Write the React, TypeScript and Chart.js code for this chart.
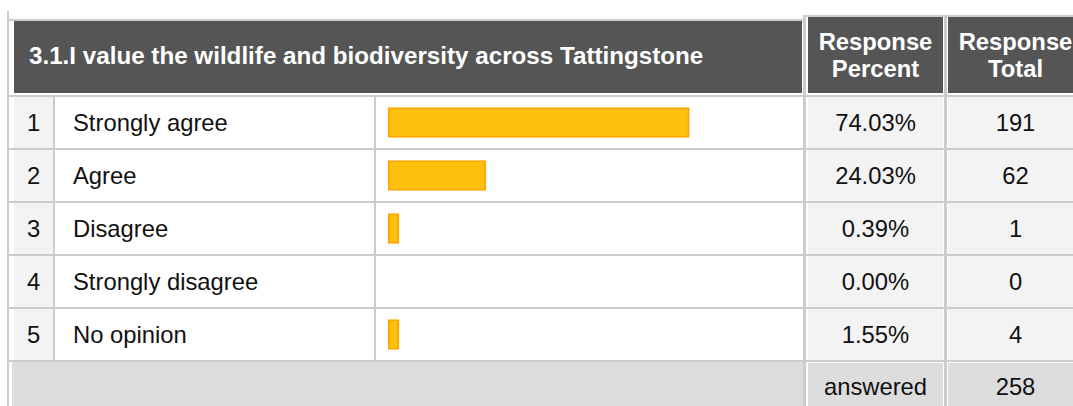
import React, { useEffect, useRef } from "react";
import { Chart, registerables } from "chart.js";

Chart.register(...registerables);

const title = "3.1.I value the wildlife and biodiversity across Tattingstone";
const headerPercent = ["Response", "Percent"];
const headerTotal = ["Response", "Total"];
const rowNumbers = ["1", "2", "3", "4", "5"];
const categories = ["Strongly agree", "Agree", "Disagree", "Strongly disagree", "No opinion"];
const percents = [74.03, 24.03, 0.39, 0.0, 1.55];
const totals = [191, 62, 1, 0, 4];
const answeredLabel = "answered";
const answered = 258;

const FONT = '"Liberation Sans", Arial, sans-serif';
const LINE = "#cccccc";
const ROW0 = 97;
const PITCH = 53;

const box = (x: number, y: number, w: number, h: number, bg: string, extra: React.CSSProperties = {}): React.CSSProperties => ({
  position: "absolute",
  left: x,
  top: y,
  width: w,
  height: h,
  background: bg,
  ...extra,
});

const centerText: React.CSSProperties = {
  display: "flex",
  alignItems: "center",
  justifyContent: "center",
  textAlign: "center",
};

function Bars() {
  const ref = useRef<HTMLCanvasElement | null>(null);
  useEffect(() => {
    if (!ref.current) return;
    const chart = new Chart(ref.current, {
      type: "bar",
      data: {
        labels: categories,
        datasets: [
          {
            data: percents.map((v) => (v > 0 ? v : null)),
            backgroundColor: "#FEC10B",
            borderColor: "#FFA500",
            borderWidth: 2,
            borderSkipped: false,
            barThickness: 30,
            minBarLength: 11,
          } as any,
        ],
      },
      options: {
        indexAxis: "y",
        animation: false,
        responsive: false,
        maintainAspectRatio: false,
        layout: { padding: { left: 11, right: 8, top: 0, bottom: 0 } },
        scales: {
          x: { display: false, min: 0, max: 100 },
          y: { display: false },
        },
        plugins: { legend: { display: false }, tooltip: { enabled: false } },
      },
    });
    return () => chart.destroy();
  }, []);
  return (
    <canvas
      ref={ref}
      width={426}
      height={265}
      style={{ position: "absolute", left: 377, top: 96, width: 426, height: 265 }}
    />
  );
}

export default function App() {
  const cells: React.ReactNode[] = [];
  for (let i = 0; i <= 5; i++) {
    const y = ROW0 - 2 + PITCH * i;
    cells.push(<div key={"h" + i} style={box(9, y, 1064, 2, LINE)} />);
  }
  categories.forEach((c, i) => {
    const y = ROW0 + PITCH * i;
    const h = PITCH - 2;
    cells.push(
      <div key={"n" + i} style={{ ...box(14, y, 39, h, "#f3f3f3"), ...centerText }}>
        {rowNumbers[i]}
      </div>
    );
    cells.push(
      <div key={"l" + i} style={{ ...box(73, y, 300, h, "transparent"), display: "flex", alignItems: "center" }}>
        {c}
      </div>
    );
    cells.push(
      <div key={"p" + i} style={{ ...box(808, y, 135, h, "#f3f3f3"), ...centerText }}>
        {percents[i].toFixed(2) + "%"}
      </div>
    );
    cells.push(
      <div key={"t" + i} style={{ ...box(948, y, 135, h, "#f3f3f3"), ...centerText }}>
        {String(totals[i])}
      </div>
    );
  });

  return (
    <div
      style={{
        position: "fixed",
        left: 0,
        top: 0,
        width: 1073,
        height: 406,
        overflow: "hidden",
        background: "#ffffff",
        fontFamily: FONT,
        fontSize: 23.8,
        color: "#111111",
      }}
    >
      <div style={box(7, 11, 2, 395, LINE)} />
      <div style={box(9, 19, 794, 2, LINE)} />
      <div
        style={{
          ...box(14, 21, 788, 72, "#555555"),
          display: "flex",
          alignItems: "center",
          paddingLeft: 15,
          paddingBottom: 3,
          boxSizing: "border-box",
          color: "#ffffff",
          fontWeight: "bold",
          fontSize: 24.2,
        }}
      >
        {title}
      </div>
      <div style={box(806, 15, 277, 2, LINE)} />
      <div style={{ ...box(808, 17, 135, 76, "#555555"), ...centerText, color: "#ffffff", fontWeight: "bold", flexDirection: "column", lineHeight: "27px" }}>
        <div>{headerPercent[0]}</div>
        <div>{headerPercent[1]}</div>
      </div>
      <div style={{ ...box(948, 17, 135, 76, "#555555"), ...centerText, color: "#ffffff", fontWeight: "bold", flexDirection: "column", lineHeight: "27px" }}>
        <div>{headerTotal[0]}</div>
        <div>{headerTotal[1]}</div>
      </div>
      {cells}
      <div style={box(53, ROW0 - 2, 2, PITCH * 5, LINE)} />
      <div style={box(374, ROW0 - 2, 2, PITCH * 5, LINE)} />
      <div style={box(803, 15, 3, 391, LINE)} />
      <div style={box(944, 15, 3, 391, LINE)} />
      <div style={box(12, ROW0 + PITCH * 5, 791, 50, "#dddddd")} />
      <div style={{ ...box(808, ROW0 + PITCH * 5 + 1, 135, 48, "#dddddd"), ...centerText }}>{answeredLabel}</div>
      <div style={{ ...box(948, ROW0 + PITCH * 5 + 1, 135, 48, "#dddddd"), ...centerText }}>{String(answered)}</div>
      <Bars />
    </div>
  );
}
